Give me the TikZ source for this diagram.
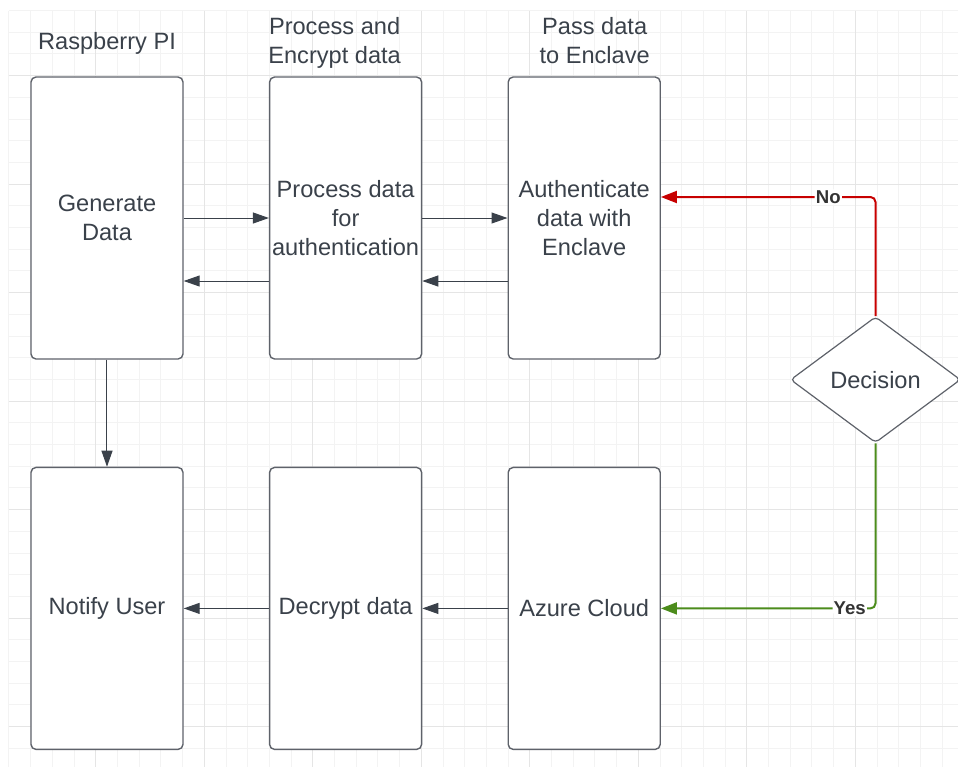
\documentclass[tikz,border=0pt]{standalone}
\usepackage{fontspec}
\setmainfont{Liberation Sans}
\usetikzlibrary{arrows.meta, positioning, shapes.geometric}
\definecolor{Borde}{RGB}{94,98,106}
\definecolor{Texto}{RGB}{58,65,74}
\definecolor{Rojo}{RGB}{199,0,0}
\definecolor{Verde}{RGB}{76,140,28}
\definecolor{Rejilla}{RGB}{243,243,243}
\definecolor{RejillaFuerte}{RGB}{229,229,229}

\begin{document}
\begin{tikzpicture}[
  node distance=53.5pt and 42.6pt,
  box/.style={
    draw=Borde, rounded corners=2.5pt, line width=0.7pt,
    fill=white, minimum width=76pt, minimum height=141pt,
    align=center, inner sep=1pt, text=Texto,
    font=\fontsize{11.8pt}{14.5pt}\selectfont
  },
  decision/.style={
    diamond, draw=Borde, rounded corners=2pt,
    line width=0.6pt, fill=white,
    minimum width=85pt, minimum height=63pt, inner sep=0pt,
    text=Texto, font=\fontsize{11.8pt}{14.5pt}\selectfont
  },
  head/.style={
    align=center, text=Texto, inner sep=0pt,
    font=\fontsize{11.8pt}{14.5pt}\selectfont
  },
  arr/.style={-{Triangle[length=8pt, width=5.5pt]}, Texto, line width=0.5pt},
  arrno/.style={-{Triangle[length=8pt, width=6pt]}, Rojo,
    line width=1pt, rounded corners=2.5pt},
  arryes/.style={-{Triangle[length=8pt, width=6pt]}, Verde,
    line width=1pt, rounded corners=2.5pt},
  lbl/.style={fill=white, inner sep=0.6pt, text=black!80,
    font=\fontsize{9.3pt}{11pt}\selectfont\bfseries}
]

\useasboundingbox (-53.5pt,109pt) rectangle (425.5pt,-274.5pt);

% background grid
\foreach \k in {0,...,43}
  \draw[Rejilla, line width=0.5pt] (-49pt+\k*10.85pt,103.75pt) -- ++(0,-378.25pt);
\foreach \k in {0,...,34}
  \draw[Rejilla, line width=0.5pt] (-49pt,103.75pt-\k*10.85pt) -- ++(474.5pt,0);
\foreach \k in {4,9,...,39}
  \draw[RejillaFuerte, line width=0.5pt] (-49pt+\k*10.85pt,103.75pt) -- ++(0,-378.25pt);
\foreach \k in {3,8,...,33}
  \draw[RejillaFuerte, line width=0.5pt] (-49pt,103.75pt-\k*10.85pt) -- ++(474.5pt,0);

\node[box] (gen) at (0,0) {Generate\\ Data};
\node[box, right=of gen] (proc) {Process data\\ for\\ authentication};
\node[box, right=of proc] (auth) {Authenticate\\ data with\\ Enclave};
\node[box, below=of gen] (notify) {Notify User};
\node[box, below=of proc] (decrypt) {Decrypt data};
\node[box, below=of auth] (azure) {Azure Cloud};
\node[decision, right=64.5pt of auth.south east, yshift=-10pt] (dec) {Decision};

\node[head, anchor=base] (hpi) at ([yshift=13.5pt]gen.north) {Raspberry PI};
\node[head, anchor=base] (hproc) at ([xshift=-5.5pt, yshift=6.5pt]proc.north)
  {Process and\\ Encrypt data};
\node[head, anchor=base] (hauth) at ([xshift=5.25pt, yshift=6.5pt]auth.north)
  {Pass data\\ to Enclave};

\draw[arr] (gen) -- (proc);
\draw[arr] (proc) -- (auth);
\draw[arr] ([yshift=-31.5pt]proc.west) -- ([yshift=-31.5pt]gen.east);
\draw[arr] ([yshift=-31.5pt]auth.west) -- ([yshift=-31.5pt]proc.east);
\draw[arr] (gen) -- (notify);
\draw[arr] (azure) -- (decrypt);
\draw[arr] (decrypt) -- (notify);

\draw[arrno] (dec.north) |- node[lbl, pos=0.61] {No} ([yshift=10.5pt]auth.east);
\draw[arryes] (dec.south) |- node[lbl, pos=0.56] {Yes} (azure.east);

\end{tikzpicture}
\end{document}
